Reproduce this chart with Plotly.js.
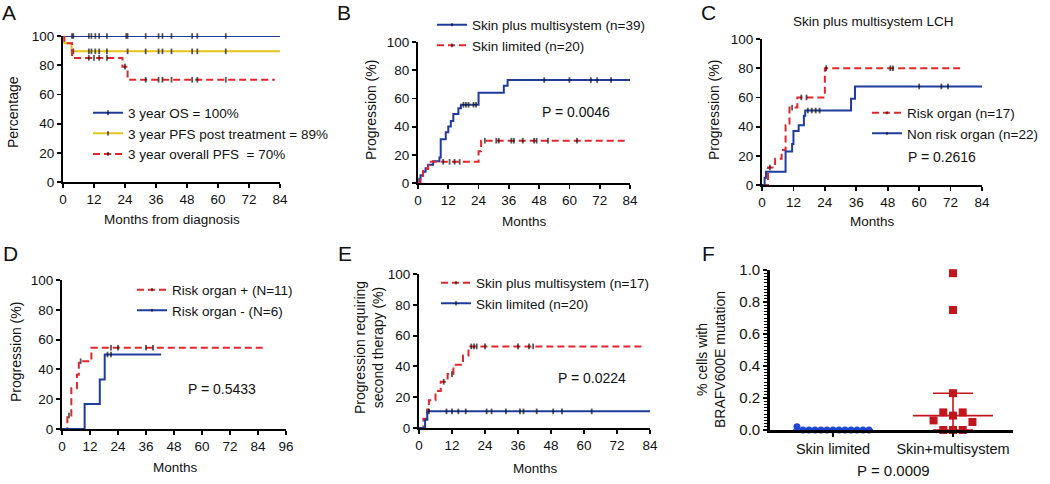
<!DOCTYPE html>
<html><head><meta charset="utf-8">
<script src="https://cdn.plot.ly/plotly-3.0.1.min.js"></script>
<style>html,body{margin:0;padding:0;background:#fff}#chart{width:1050px;height:484px}</style>
</head><body><div id="chart"></div>
<script>
// ================= DATA =================
const monthTicks = [0, 12, 24, 36, 48, 60, 72, 84];
const monthTicksD = [0, 12, 24, 36, 48, 60, 72, 84, 96];
const pctTicks = [0, 20, 40, 60, 80, 100];

// Panel A – survival (%)
const aOsStart = 100;
const aOsEventTimes = [];
const aOsEventLevels = [];
const aOsCensor = [3.5, 4, 10, 11, 12.5, 14, 17, 24.5, 25, 32, 37, 38.5, 42, 50, 52, 63];
const aOsEnd = 84;
const aPfsPostStart = 100;
const aPfsPostEventTimes = [0.5, 3.3];
const aPfsPostEventLevels = [95, 89.5];
const aPfsPostCensor = [4, 10, 11, 12.5, 14, 17, 25, 32, 37, 38.5, 42, 50, 52, 63];
const aPfsPostEnd = 84;
const aPfsAllStart = 100;
const aPfsAllEventTimes = [0.5, 3.5, 23, 25];
const aPfsAllEventLevels = [95, 85, 79, 70];
const aPfsAllCensor = [10, 12, 14, 17, 24, 32, 37, 38.5, 42, 50, 52, 63];
const aPfsAllEnd = 82;

// Panel B – progression (%)
const bMultiEventTimes = [0.5, 1, 2, 3, 4, 6, 8.5, 9, 11, 12, 13, 14, 16, 17, 24, 34, 35.5];
const bMultiEventLevels = [3, 5.5, 8, 10.5, 13, 15.5, 18, 31, 36, 40, 44, 49, 53, 55.5, 64, 69, 73];
const bMultiCensor = [18, 19, 20, 22, 23, 50, 60, 68.5, 71, 76.5];
const bMultiEnd = 84;
const bLimitedEventTimes = [1, 2, 4, 24, 25];
const bLimitedEventLevels = [5, 10, 15, 22.5, 30];
const bLimitedCensor = [10, 12.5, 14.5, 16.5, 26.5, 31, 32, 37, 38, 41.5, 46, 47, 51.5, 63];
const bLimitedEnd = 82.5;

// Panel C – progression (%), skin plus multisystem LCH
const cRiskEventTimes = [2.3, 5, 7.5, 9, 10.5, 13.5, 24];
const cRiskEventLevels = [12, 18, 24, 41, 53, 60, 80];
const cRiskCensor = [3, 11.5, 15, 17, 24.5, 49, 50];
const cRiskEnd = 77;
const cNonRiskEventTimes = [1, 1.5, 9, 11.5, 12, 14, 16, 16.5, 34, 35.5];
const cNonRiskEventLevels = [5, 9, 23, 28, 37, 41, 47.5, 51, 59, 67.5];
const cNonRiskCensor = [17.5, 19, 20.5, 22, 60, 68.5, 71];
const cNonRiskEnd = 84;

// Panel D – progression (%)
const dPosEventTimes = [2.3, 4, 6.4, 7.2, 12.6];
const dPosEventLevels = [9.1, 27.3, 36.4, 45.5, 54.5];
const dPosCensor = [3, 8, 21, 24, 36, 39];
const dPosEnd = 86;
const dNegEventTimes = [9.7, 16.2, 18.3];
const dNegEventLevels = [16.7, 33.3, 50];
const dNegCensor = [19.5, 21];
const dNegEnd = 42.5;

// Panel E – progression requiring second therapy (%)
const eMultiEventTimes = [1.6, 3, 3.6, 6, 7.9, 10.4, 12.5, 16, 18];
const eMultiEventLevels = [6, 12, 18, 24, 30, 35, 41, 47, 53];
const eMultiCensor = [9, 12, 19, 20, 21, 24, 36, 40, 41.5];
const eMultiEnd = 82;
const eLimitedEventTimes = [2.2, 3];
const eLimitedEventLevels = [5.4, 10.8];
const eLimitedCensor = [3.6, 10, 12, 14.3, 17, 24.6, 26.4, 31.6, 36.7, 38, 42.8, 48.8, 52, 62.8];
const eLimitedEnd = 84;

// Panel F – % cells with BRAFV600E mutation
const fCategories = ['Skin limited', 'Skin+multisystem'];
const fSkinLimited = [0, 0, 0, 0, 0, 0, 0, 0, 0, 0, 0, 0, 0.02];
const fSkinMulti = [0.98, 0.75, 0.23, 0.09, 0.11, 0.11, 0.05, 0.06, 0, 0, 0];

// ================= STYLE / HELPERS =================
const W = 1050, H = 484;
const FONT = 'Liberation Sans, Arial, Helvetica, sans-serif';
const BLUE = '#1f3c9c', RED = '#e2262c', YELLOW = '#e5c31d';
const F_BLUE = '#1f45d6', F_RED = '#c3161c';
const CENSOR_SIZE = 4;
const DASH = '7px,4px';

const dx = (l, r) => [l / W, r / W];
const dy = (t, b) => [1 - b / H, 1 - t / H];

function kmCurve(start, evT, evL, cens, end) {
  const times = Array.from(new Set([0, ...evT, ...cens, end])).sort((a, b) => a - b);
  const level = t => { let v = start; evT.forEach((et, i) => { if (et <= t) v = evL[i]; }); return v; };
  return { x: times, y: times.map(level), size: times.map(t => cens.includes(t) ? CENSOR_SIZE : 0) };
}
function kmTrace(name, c, color, dash, xa, ya, legend) {
  return {
    type: 'scatter', mode: 'lines+markers', name, x: c.x, y: c.y, xaxis: xa, yaxis: ya, legend,
    line: { shape: 'hv', color, width: 2, dash },
    marker: { symbol: 'line-ns', size: c.size, color: '#111', line: { color: '#111', width: 1.8 } },
    cliponaxis: false, hoverinfo: 'skip'
  };
}
function swarm(values, center, step, tol) {
  const placed = [];
  return values.map(v => {
    for (let k = 0; ; k++) {
      const off = k === 0 ? 0 : (k % 2 === 1 ? (k + 1) / 2 : -k / 2);
      if (!placed.some(p => p.off === off && Math.abs(p.v - v) < tol)) { placed.push({ off, v }); return center + off * step; }
    }
  });
}
function quant(vals, p) {
  const s = [...vals].sort((a, b) => a - b), n = s.length, pos = p * (n + 1);
  if (pos <= 1) return s[0];
  if (pos >= n) return s[n - 1];
  const f = Math.floor(pos);
  return s[f - 1] + (pos - f) * (s[f] - s[f - 1]);
}

// ================= TRACES =================
const data = [];
// A
data.push(kmTrace('3 year OS = 100%', kmCurve(aOsStart, aOsEventTimes, aOsEventLevels, aOsCensor, aOsEnd), BLUE, 'solid', 'x', 'y', 'legend'));
data.push(kmTrace('3 year PFS post treatment = 89%', kmCurve(aPfsPostStart, aPfsPostEventTimes, aPfsPostEventLevels, aPfsPostCensor, aPfsPostEnd), YELLOW, 'solid', 'x', 'y', 'legend'));
data.push(kmTrace('3 year overall PFS  = 70%', kmCurve(aPfsAllStart, aPfsAllEventTimes, aPfsAllEventLevels, aPfsAllCensor, aPfsAllEnd), RED, DASH, 'x', 'y', 'legend'));
// B
data.push(kmTrace('Skin plus multisystem (n=39)', kmCurve(0, bMultiEventTimes, bMultiEventLevels, bMultiCensor, bMultiEnd), BLUE, 'solid', 'x2', 'y2', 'legend2'));
data.push(kmTrace('Skin limited (n=20)', kmCurve(0, bLimitedEventTimes, bLimitedEventLevels, bLimitedCensor, bLimitedEnd), RED, DASH, 'x2', 'y2', 'legend2'));
// C
data.push(kmTrace('Risk organ (n=17)', kmCurve(0, cRiskEventTimes, cRiskEventLevels, cRiskCensor, cRiskEnd), RED, DASH, 'x3', 'y3', 'legend3'));
data.push(kmTrace('Non risk organ (n=22)', kmCurve(0, cNonRiskEventTimes, cNonRiskEventLevels, cNonRiskCensor, cNonRiskEnd), BLUE, 'solid', 'x3', 'y3', 'legend3'));
// D
data.push(kmTrace('Risk organ + (N=11)', kmCurve(0, dPosEventTimes, dPosEventLevels, dPosCensor, dPosEnd), RED, DASH, 'x4', 'y4', 'legend4'));
data.push(kmTrace('Risk organ - (N=6)', kmCurve(0, dNegEventTimes, dNegEventLevels, dNegCensor, dNegEnd), BLUE, 'solid', 'x4', 'y4', 'legend4'));
// E
data.push(kmTrace('Skin plus multisystem (n=17)', kmCurve(0, eMultiEventTimes, eMultiEventLevels, eMultiCensor, eMultiEnd), RED, DASH, 'x5', 'y5', 'legend5'));
data.push(kmTrace('Skin limited (n=20)', kmCurve(0, eLimitedEventTimes, eLimitedEventLevels, eLimitedCensor, eLimitedEnd), BLUE, 'solid', 'x5', 'y5', 'legend5'));
// F
const fGroups = [
  { vals: fSkinLimited, color: F_BLUE, symbol: 'circle', size: 7, step: 0.05, tol: 0.03 },
  { vals: fSkinMulti, color: F_RED, symbol: 'square', size: 8, step: 0.081, tol: 0.07 }
];
fGroups.forEach((g, i) => {
  const med = quant(g.vals, 0.5), q1 = quant(g.vals, 0.25), q3 = quant(g.vals, 0.75);
  const lineSty = { color: g.color, width: 1.6 };
  data.push({ type: 'scatter', mode: 'lines', x: [i - 0.333, i + 0.333], y: [med, med], xaxis: 'x6', yaxis: 'y6', line: lineSty, showlegend: false, hoverinfo: 'skip', cliponaxis: false });
  data.push({ type: 'scatter', mode: 'lines', x: [i, i, null, i - 0.167, i + 0.167, null, i - 0.167, i + 0.167], y: [q1, q3, null, q3, q3, null, q1, q1], xaxis: 'x6', yaxis: 'y6', line: lineSty, showlegend: false, hoverinfo: 'skip', cliponaxis: false });
  data.push({ type: 'scatter', mode: 'markers', name: fCategories[i], x: swarm(g.vals, i, g.step, g.tol), y: g.vals, xaxis: 'x6', yaxis: 'y6',
    marker: { symbol: g.symbol, size: g.size, color: g.color }, showlegend: false, hoverinfo: 'skip', cliponaxis: false });
});

// ================= LAYOUT =================
const axBase = { showgrid: false, zeroline: false, showline: true, linecolor: '#000', linewidth: 2, ticks: 'outside', ticklen: 4, tickwidth: 1.8, tickcolor: '#000', tickfont: { size: 13.5, color: '#111' }, fixedrange: true };
const xMonth = (dom, anchor, ticks, max) => Object.assign({}, axBase, { domain: dom, anchor, range: [0, max], tickvals: ticks, ticktext: ticks.map(String) });
const yPct = (dom, anchor) => Object.assign({}, axBase, { domain: dom, anchor, range: [0, 100], tickvals: pctTicks });

const legBase = { bgcolor: 'rgba(0,0,0,0)', font: { size: 13.5, color: '#111' }, itemclick: false, itemdoubleclick: false, tracegroupgap: 0, xanchor: 'left', yanchor: 'top', itemwidth: 30 };
const leg = (textLeft, rowCenter) => Object.assign({}, legBase, { x: (textLeft - 40) / W, y: 1 - (rowCenter - 15.5) / H });

const ann = (text, x, y, size, opts) => Object.assign({ text, x: x / W, y: 1 - y / H, xref: 'paper', yref: 'paper', xanchor: 'center', yanchor: 'middle', showarrow: false, font: { size, color: '#111' } }, opts || {});
const rot = { textangle: -90 };

const layout = {
  width: W, height: H, margin: { l: 0, r: 0, t: 0, b: 0 },
  paper_bgcolor: '#fff', plot_bgcolor: '#fff', font: { family: FONT, color: '#111' }, showlegend: true,
  xaxis: xMonth(dx(63, 280), 'y', monthTicks, 84), yaxis: yPct(dy(36, 182), 'x'),
  xaxis2: xMonth(dx(418, 630), 'y2', monthTicks, 84), yaxis2: yPct(dy(42, 183), 'x2'),
  xaxis3: xMonth(dx(762, 982), 'y3', monthTicks, 84), yaxis3: yPct(dy(39, 185), 'x3'),
  xaxis4: xMonth(dx(62, 286), 'y4', monthTicksD, 96), yaxis4: yPct(dy(280, 429), 'x4'),
  xaxis5: xMonth(dx(419, 650), 'y5', monthTicks, 84), yaxis5: yPct(dy(274, 428), 'x5'),
  xaxis6: Object.assign({}, axBase, { domain: dx(770, 1013), anchor: 'y6', range: [-0.525, 1.5], tickvals: [0, 1], ticktext: fCategories, linewidth: 2.8, tickwidth: 1.8, tickfont: { size: 14.5, color: '#111' } }),
  yaxis6: Object.assign({}, axBase, { domain: dy(270, 430), anchor: 'x6', range: [0, 1], tick0: 0, dtick: 0.2, tickformat: '.1f', linewidth: 2.8, tickfont: { size: 15, color: '#111' },
    minor: { dtick: 0.02, ticks: 'outside', ticklen: 3, tickwidth: 1, tickcolor: '#000', showgrid: false } }),
  legend: leg(128, 113), legend2: leg(472, 25), legend3: leg(907, 113), legend4: leg(172, 290), legend5: leg(476, 283),
  annotations: [
    ann('A', 9, 12, 21), ann('B', 344, 12, 21), ann('C', 708, 12, 21),
    ann('D', 10, 253, 21), ann('E', 345, 253, 21), ann('F', 708, 253, 21),
    ann('Skin plus multisystem LCH', 873, 22, 13.5),
    ann('P = 0.0046', 576, 112, 14), ann('P = 0.2616', 942, 157, 14), ann('P = 0.5433', 222, 389, 14),
    ann('P = 0.0224', 592, 378, 14), ann('P = 0.0009', 893, 470, 15),
    ann('Months from diagnosis', 172, 219, 13.5), ann('Months', 524, 221, 13.5), ann('Months', 872, 221, 13.5),
    ann('Months', 175, 467, 13.5), ann('Months', 535, 468, 13.5),
    ann('Percentage', 13, 112, 14, rot), ann('Progression (%)', 371, 110, 14, rot), ann('Progression (%)', 714, 110, 14, rot),
    ann('Progression (%)', 16, 352, 14, rot), ann('Progression requiring<br>second therapy (%)', 369, 348, 14, rot),
    ann('% cells with<br>BRAFV600E mutation', 711, 360, 14, rot)
  ]
};

Plotly.newPlot('chart', data, layout, { displayModeBar: false, staticPlot: true });
</script></body></html>
